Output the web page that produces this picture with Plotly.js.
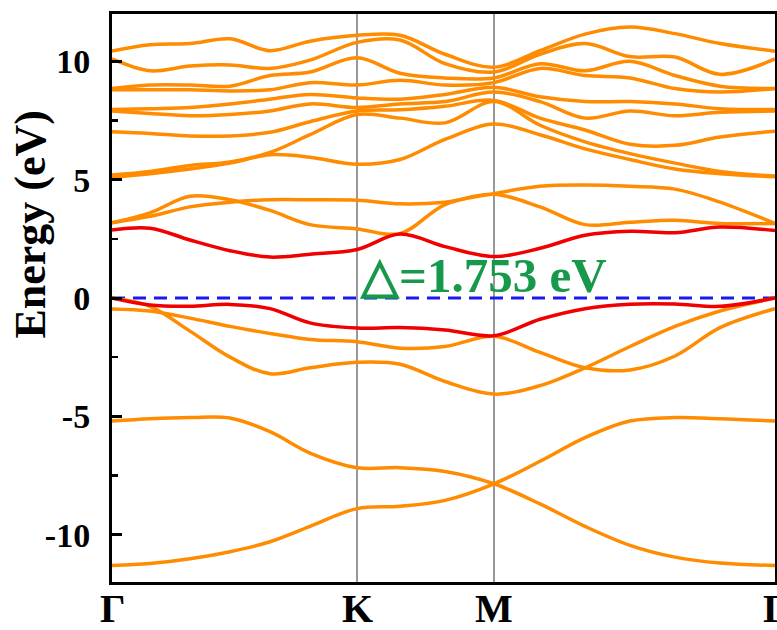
<!DOCTYPE html>
<html>
<head>
<meta charset="utf-8">
<script src="https://cdn.plot.ly/plotly-3.0.1.min.js"></script>
<style>html,body{margin:0;padding:0;background:#fff;}#chart{width:777px;height:630px;}</style>
</head>
<body>
<div id="chart"></div>
<script>
// k-path positions (Γ, ..., K, ..., M, ..., Γ)
const kpath = [0, 38, 78, 118, 158, 198, 245, 288, 333, 382, 428, 473, 518, 563, 608, 663];
const kLabelPos = [0, 245, 382, 663];
const kLabels = ['Γ', 'K', 'M', 'Γ'];

// Valence bands (eV)
const low1 = [-11.3, -11.22, -11.02, -10.72, -10.3, -9.65, -8.9, -8.8, -8.55, -7.85, -6.9, -5.9, -5.2, -5.05, -5.1, -5.2];
const low2 = [-5.2, -5.1, -5.05, -5.07, -5.65, -6.55, -7.17, -7.17, -7.33, -7.85, -8.7, -9.65, -10.45, -10.95, -11.2, -11.3];
const vb3 = [0.0, -0.35, -1.4, -2.5, -3.2, -2.95, -2.72, -2.8, -3.53, -4.06, -3.7, -2.95, -2.05, -1.2, -0.55, 0.0];
const vb2 = [-0.46, -0.55, -0.85, -1.2, -1.5, -1.75, -1.85, -2.12, -2.05, -1.62, -2.3, -2.95, -3.04, -2.45, -1.25, -0.45];
const vbTop = [0.0, -0.3, -0.35, -0.27, -0.45, -1.05, -1.27, -1.25, -1.35, -1.59, -0.9, -0.45, -0.26, -0.25, -0.35, 0.0];

// Conduction bands (eV)
const cbBottom = [2.87, 2.95, 2.45, 2.0, 1.73, 1.85, 2.05, 2.7, 2.17, 1.75, 2.1, 2.65, 2.82, 2.76, 3.0, 2.85];
const cb1 = [3.18, 3.6, 4.3, 4.15, 3.7, 3.1, 2.92, 2.72, 3.95, 4.41, 4.72, 4.77, 4.72, 4.6, 4.05, 3.15];
const cb2 = [3.18, 3.45, 3.85, 4.05, 4.15, 4.15, 4.13, 3.98, 4.05, 4.38, 3.85, 3.1, 3.2, 3.28, 3.15, 3.15];
const u1 = [5.1, 5.25, 5.45, 5.7, 6.05, 5.95, 5.65, 5.85, 6.7, 7.35, 6.9, 6.3, 5.85, 5.45, 5.25, 5.12];
const u2 = [5.2, 5.35, 5.6, 5.75, 6.15, 6.9, 7.75, 7.6, 7.4, 8.3, 7.3, 6.6, 6.1, 5.7, 5.35, 5.15];
const u3 = [7.02, 6.95, 6.85, 6.85, 7.0, 7.45, 7.9, 7.95, 8.1, 8.35, 7.6, 7.1, 6.5, 6.45, 6.8, 7.05];
const u4 = [7.9, 7.8, 7.7, 7.75, 7.9, 8.2, 8.05, 8.2, 8.3, 8.7, 8.3, 7.6, 7.9, 7.7, 7.85, 7.9];
const u5 = [7.96, 8.0, 8.05, 8.2, 8.4, 8.6, 8.45, 8.4, 8.6, 8.9, 8.5, 8.3, 8.3, 8.2, 8.0, 7.96];
const u6 = [8.8, 8.8, 8.8, 8.75, 8.8, 9.1, 9.0, 9.2, 9.0, 9.1, 9.7, 9.4, 9.3, 8.85, 8.7, 8.85];
const u7 = [8.85, 9.0, 9.0, 8.95, 9.4, 9.55, 10.15, 9.5, 9.3, 9.3, 9.9, 9.6, 10.0, 9.4, 8.95, 8.85];
const u8 = [10.1, 9.6, 9.8, 9.85, 9.7, 10.05, 10.8, 10.9, 9.9, 9.55, 10.3, 10.75, 10.2, 10.18, 9.45, 10.1];
const u9 = [10.43, 10.7, 10.75, 10.95, 10.45, 10.85, 11.1, 11.1, 10.3, 9.75, 10.45, 11.15, 11.45, 11.17, 10.75, 10.43];

const yTickVals = [-10, -5, 0, 5, 10];
const yTickText = ['-10', '-5', '0', '5', '10'];
const gapText = '△=1.753 eV';

const orange = '#ff8c00';
const red = '#f00000';
const orangeBands = [low1, low2, vb3, vb2, cb1, cb2, u1, u2, u3, u4, u5, u6, u7, u8, u9];
const redBands = [vbTop, cbBottom];

const traces = [];
[kLabelPos[1], kLabelPos[2]].forEach(function (kx) {
  traces.push({x: [kx, kx], y: [-12, 12], mode: 'lines', line: {color: '#333', width: 1}, hoverinfo: 'skip'});
});
traces.push({x: [kpath[0], kpath[kpath.length - 1]], y: [0, 0], mode: 'lines',
  line: {color: '#1a1aee', width: 3, dash: '13px,8px'}, hoverinfo: 'skip'});
orangeBands.forEach(function (b) {
  traces.push({x: kpath, y: b, mode: 'lines', line: {color: orange, width: 3.5, shape: 'spline', smoothing: 1}});
});
redBands.forEach(function (b) {
  traces.push({x: kpath, y: b, mode: 'lines', line: {color: red, width: 3.5, shape: 'spline', smoothing: 1}});
});

const fontFam = '"Liberation Serif", "Times New Roman", serif';
const annotations = [
  {text: 'Energy (eV)', textangle: -90, xref: 'paper', yref: 'paper', x: -0.123, y: 0.63,
   xanchor: 'center', yanchor: 'middle', showarrow: false,
   font: {family: fontFam, size: 44, color: '#000', weight: 'bold'}},
  {text: gapText, xref: 'x', yref: 'y', x: 245, y: 0.95, xanchor: 'left', yanchor: 'middle', showarrow: false,
   font: {family: fontFam, size: 49, color: '#16994a', weight: 'bold'}}
];
kLabelPos.forEach(function (kx, i) {
  annotations.push({text: kLabels[i], xref: 'x', yref: 'paper', x: kx, y: 0, xanchor: 'center', yanchor: 'middle',
    yshift: -26, showarrow: false, font: {family: fontFam, size: 40, color: '#000', weight: 'bold'}});
});

const layout = {
  width: 777, height: 630,
  margin: {l: 112, r: 2, t: 14, b: 48},
  paper_bgcolor: '#fff', plot_bgcolor: '#fff',
  showlegend: false, hovermode: false,
  xaxis: {
    range: [kpath[0], kpath[kpath.length - 1]],
    showticklabels: false,
    showgrid: false, zeroline: false, ticks: '',
    showline: true, linecolor: '#000', linewidth: 3, mirror: true
  },
  yaxis: {
    range: [-12, 12],
    tickvals: yTickVals, ticktext: yTickText,
    tickfont: {family: fontFam, size: 34, color: '#000', weight: 'bold'},
    showgrid: false, zeroline: false,
    ticks: 'inside', ticklen: 10, tickwidth: 3, tickcolor: '#000',
    minor: {tickvals: [-7.5, -2.5, 2.5, 7.5], ticks: 'inside', ticklen: 6, tickwidth: 2.5, tickcolor: '#000'},
    showline: true, linecolor: '#000', linewidth: 3, mirror: true,
    ticklabelstandoff: 12
  },
  annotations: annotations
};
Plotly.newPlot('chart', traces, layout, {displayModeBar: false, staticPlot: true});
</script>
</body>
</html>
